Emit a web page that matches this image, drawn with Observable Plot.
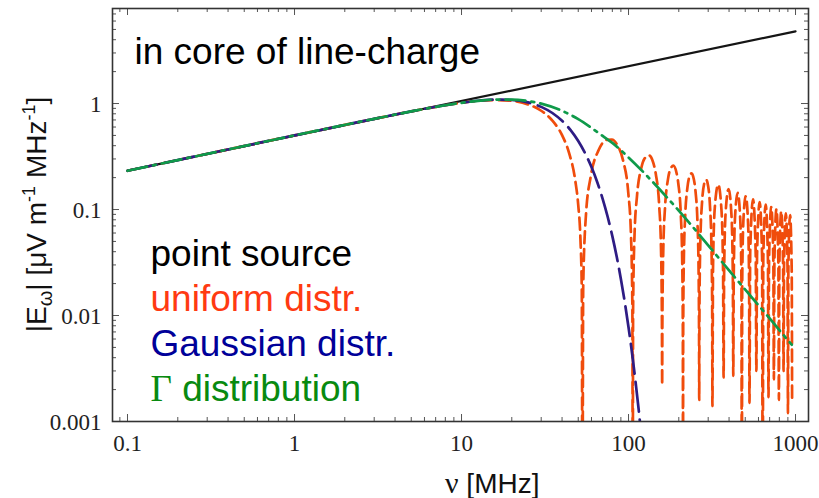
<!DOCTYPE html>
<html>
<head>
<meta charset="utf-8">
<script src="https://cdn.jsdelivr.net/npm/d3@7"></script>
<script src="https://cdn.jsdelivr.net/npm/@observablehq/plot@0.6"></script>
<style>
  html, body { margin: 0; padding: 0; background: #fff; }
  #chart svg { display: block; background: #fff; }
</style>
</head>
<body>
<div id="chart"></div>
<script>
// ---------- tick values & labels ----------
const xMajor = [0.1, 1, 10, 100, 1000];
const xMajorLabels = ["0.1", "1", "10", "100", "1000"];
const xMinor = [0.09, 0.2, 0.3, 0.4, 0.5, 0.6, 0.7, 0.8, 0.9,
                2, 3, 4, 5, 6, 7, 8, 9,
                20, 30, 40, 50, 60, 70, 80, 90,
                200, 300, 400, 500, 600, 700, 800, 900];
const yMajor = [0.001, 0.01, 0.1, 1];
const yMajorLabels = ["0.001", "0.01", "0.1", "1"];
const yMinor = [0.002, 0.003, 0.004, 0.005, 0.006, 0.007, 0.008, 0.009,
                0.02, 0.03, 0.04, 0.05, 0.06, 0.07, 0.08, 0.09,
                0.2, 0.3, 0.4, 0.5, 0.6, 0.7, 0.8, 0.9,
                2, 3, 4, 5, 6, 7];

// ---------- series (frequency in MHz, |E| in µV/m/MHz) ----------
const nuPoint = [0.1, 1000];
const ePoint  = [0.233, 4.8];

const nuUniform = [
  0.1, 1, 3, 5, 8, 10, 13, 16, 20, 25, 30, 35, 40, 44, 48, 50, 51.5, 52.5, 53,
  53.53, 55.65, 59.36, 66.25, 74.2, 79.5, 85.86, 92.75, 99.64, 103.35, 105.47, 106,
  106.53, 108.65, 112.36, 119.25, 124.55, 132.5, 140.45, 145.75, 152.64, 156.35, 158.47, 159,
  159.53, 161.65, 165.36, 172.25, 177.55, 185.5, 193.45, 198.75, 205.64, 209.35, 211.47, 212,
  212.53, 214.65, 218.36, 225.25, 230.55, 238.5, 246.45, 251.75, 258.64, 262.35, 264.47, 265,
  266.06, 269.24, 275.6, 283.55, 291.5, 299.45, 307.4, 313.76, 316.94, 318,
  320.65, 328.6, 344.5, 360.4, 368.35, 371,
  373.65, 381.6, 397.5, 413.4, 421.35, 424,
  426.65, 434.6, 450.5, 466.4, 474.35, 477,
  479.65, 487.6, 503.5, 519.4, 527.35, 530,
  535.3, 556.5, 577.7, 583,
  588.3, 609.5, 630.7, 636,
  641.3, 662.5, 683.7, 689,
  694.3, 715.5, 736.7, 742,
  747.3, 768.5, 789.7, 795,
  800.3, 821.5, 842.7, 848,
  853.3, 874.5, 895.7, 901,
  906.3, 927.5, 948.7, 954
];
const eUniform = [
  0.232, 0.5, 0.717, 0.843, 0.963, 1.015, 1.063, 1.079, 1.06, 0.982, 0.855, 0.69, 0.503, 0.344, 0.187, 0.11, 0.054, 0.0178, 0.0001,
  0.0187, 0.0905, 0.204, 0.364, 0.454, 0.456, 0.403, 0.291, 0.1445, 0.0599, 0.0119, 0.0001,
  0.0118, 0.0579, 0.1333, 0.2462, 0.3013, 0.3245, 0.2782, 0.2153, 0.1087, 0.0455, 0.009, 0.0022,
  0.009, 0.0444, 0.1031, 0.1926, 0.238, 0.2593, 0.2247, 0.1751, 0.0891, 0.0374, 0.0075, 0.0001,
  0.0074, 0.0368, 0.0856, 0.1611, 0.1997, 0.2193, 0.191, 0.1496, 0.0765, 0.0322, 0.0064, 0.0016,
  0.0128, 0.0501, 0.1168, 0.174, 0.1918, 0.1678, 0.1086, 0.0453, 0.0114, 0.0014,
  0.0282, 0.104, 0.1717, 0.0979, 0.0256, 0.0026,
  0.0254, 0.0942, 0.156, 0.0892, 0.0234, 0.0027,
  0.0232, 0.0863, 0.1435, 0.0824, 0.0217, 0.0001,
  0.0215, 0.08, 0.1333, 0.0767, 0.0202, 0.0015,
  0.0393, 0.1247, 0.0378, 0.003,
  0.037, 0.1173, 0.0356, 0.0001,
  0.0349, 0.111, 0.0337, 0.0017,
  0.0331, 0.1054, 0.032, 0.0025,
  0.0316, 0.1005, 0.0305, 0.0016,
  0.0302, 0.0962, 0.0292, 0.003,
  0.0289, 0.0922, 0.028, 0.0012,
  0.0278, 0.0887, 0.027, 0.0015
];

const nuGauss = [0.1, 1, 3, 5, 8, 10, 13, 16, 20, 25, 30, 35, 40, 45, 50, 55, 60, 65, 70, 75, 80, 85, 90, 95, 100, 105, 110, 115, 120];
const eGauss  = [0.232, 0.5, 0.717, 0.843, 0.964, 1.017, 1.068, 1.089, 1.08, 1.024, 0.93, 0.814, 0.687, 0.561, 0.443, 0.339, 0.2515, 0.181, 0.1262, 0.0854, 0.0561, 0.0358, 0.0221, 0.0133, 0.00776, 0.0044, 0.00242, 0.0013, 0.00067];

const nuGamma = [0.1, 1, 3, 5, 8, 10, 13, 16, 20, 25, 30, 40, 50, 60, 70, 80, 100, 130, 170, 220, 300, 400, 550, 700, 850, 950];
const eGamma  = [0.232, 0.5, 0.717, 0.842, 0.963, 1.015, 1.066, 1.09, 1.09, 1.056, 0.998, 0.853, 0.712, 0.589, 0.495, 0.425, 0.31, 0.205, 0.13, 0.082, 0.046, 0.0266, 0.0147, 0.0094, 0.0065, 0.0053];

// ---------- legend / annotation ----------
const annotation = "in core of line-charge";
const legendLabels = ["point source", "uniform distr.", "Gaussian distr.", "Γ distribution"];
const legendColors = ["#000000", "#ff3a12", "#000099", "#088a10"];
const lineColors = {point: "#151515", uniform: "#f04c0c", gauss: "#2e1c84", gamma: "#0f9a4a"};

// ---------- layout ----------
const W = 819, H = 498;
const mL = 112, mR = 11, mT = 8, mB = 77;
const innerW = W - mL - mR, innerH = H - mT - mB;
const sans = "'Liberation Sans', Arial, Helvetica, sans-serif";
const serif = "'Liberation Serif', 'Times New Roman', serif";

const rows = (xs, ys) => xs.map((nu, i) => ({nu, e: ys[i]}));
const tickStroke = "#555";

const marks = [
  // curves
  Plot.line(rows(nuPoint, ePoint), {x: "nu", y: "e", stroke: lineColors.point, strokeWidth: 2.2, clip: true}),
  Plot.line(rows(nuUniform, eUniform), {x: "nu", y: "e", stroke: lineColors.uniform, strokeWidth: 2.7, strokeDasharray: "12,6", curve: "monotone-x", clip: true}),
  Plot.line(rows(nuGauss, eGauss), {x: "nu", y: "e", stroke: lineColors.gauss, strokeWidth: 2.7, strokeDasharray: "30,8", curve: "monotone-x", clip: true}),
  Plot.line(rows(nuGamma, eGamma), {x: "nu", y: "e", stroke: lineColors.gamma, strokeWidth: 2.7, strokeDasharray: "20,6,3,6", curve: "monotone-x", clip: true}),
  // inner ticks: bottom / top
  Plot.tickX(xMajor, {x: d => d, insetTop: innerH - 7, stroke: tickStroke}),
  Plot.tickX(xMajor, {x: d => d, insetBottom: innerH - 7, stroke: tickStroke}),
  Plot.tickX(xMinor, {x: d => d, insetTop: innerH - 4, stroke: tickStroke}),
  Plot.tickX(xMinor, {x: d => d, insetBottom: innerH - 4, stroke: tickStroke}),
  // inner ticks: left / right
  Plot.tickY(yMajor, {y: d => d, insetRight: innerW - 7, stroke: tickStroke}),
  Plot.tickY(yMajor, {y: d => d, insetLeft: innerW - 7, stroke: tickStroke}),
  Plot.tickY(yMinor, {y: d => d, insetRight: innerW - 4, stroke: tickStroke}),
  Plot.tickY(yMinor, {y: d => d, insetLeft: innerW - 4, stroke: tickStroke}),
  Plot.frame({stroke: "#333", strokeWidth: 1.6}),
  // tick labels
  Plot.text(xMajor, {x: d => d, text: (d, i) => xMajorLabels[i], frameAnchor: "bottom", lineAnchor: "bottom", dy: 29,
                     fontFamily: serif, fontSize: 23, fill: "#222"}),
  Plot.text(yMajor, {y: d => d, text: (d, i) => yMajorLabels[i], frameAnchor: "left", textAnchor: "end", dx: -11, dy: 1,
                     fontFamily: serif, fontSize: 23, fill: "#222"}),
  // annotation
  Plot.text([annotation], {frameAnchor: "top-left", textAnchor: "start", lineAnchor: "bottom", dx: 22, dy: 55,
                           fontFamily: sans, fontSize: 37, fill: "#000"}),
  // legend
  ...legendLabels.map((t, i) => Plot.text([t], {frameAnchor: "top-left", textAnchor: "start", lineAnchor: "bottom",
                           dx: 38, dy: 257 + 45 * i, fontFamily: sans, fontSize: 37, fill: legendColors[i]}))
];

const svg = Plot.plot({
  width: W, height: H,
  marginLeft: mL, marginRight: mR, marginTop: mT, marginBottom: mB,
  style: {background: "#fff", fontFamily: sans},
  x: {type: "log", domain: [0.0813, 1196], axis: null},
  y: {type: "log", domain: [0.001, 7.88], axis: null},
  marks
});

const s = d3.select(svg);
// serif Γ in the legend entry
s.selectAll("text").filter(function () { return this.textContent === "Γ distribution"; }).each(function () {
  const t = d3.select(this);
  t.text(null);
  t.append("tspan").attr("font-family", serif).text("Γ");
  t.append("tspan").text(" distribution");
});

// x-axis title
const xt = s.append("text")
  .attr("x", 445).attr("y", 493)
  .attr("text-anchor", "start")
  .attr("font-family", sans).attr("font-size", 28).attr("fill", "#111");
xt.append("tspan").attr("font-family", serif).attr("font-size", 30).text("ν");
xt.append("tspan").text(" [MHz]");

// y-axis title
const yt = s.append("text")
  .attr("transform", `translate(46,${mT + innerH / 2}) rotate(-90)`)
  .attr("text-anchor", "middle")
  .attr("font-family", sans).attr("font-size", 28).attr("fill", "#111");
yt.append("tspan").text("|E");
yt.append("tspan").attr("font-size", 20).attr("dy", 6).text("ω");
yt.append("tspan").attr("dy", -6).text("| [μV m");
yt.append("tspan").attr("font-size", 18).attr("dy", -11).text("-1");
yt.append("tspan").attr("dy", 11).text(" MHz");
yt.append("tspan").attr("font-size", 18).attr("dy", -11).text("-1");
yt.append("tspan").attr("dy", 11).text("]");

document.getElementById("chart").appendChild(svg);
</script>
</body>
</html>
